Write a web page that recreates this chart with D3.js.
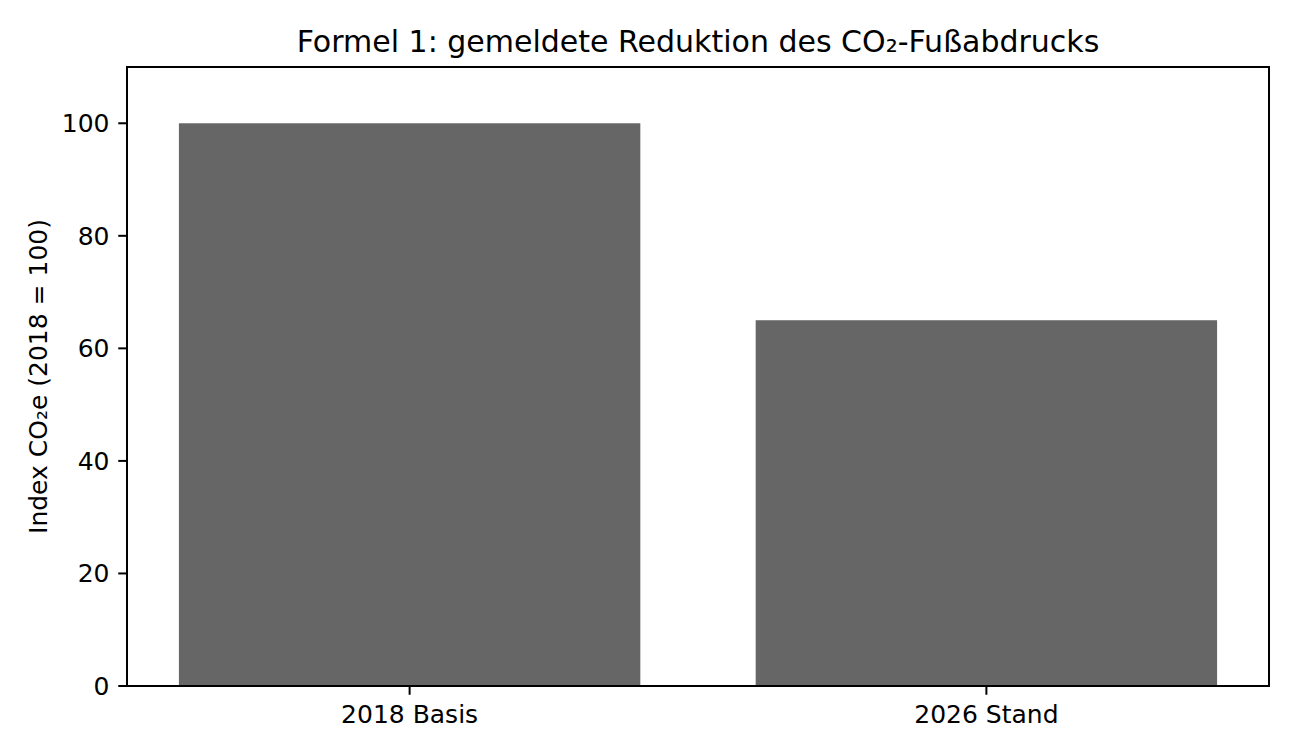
<!DOCTYPE html>
<html><head><meta charset="utf-8">
<script src="https://cdn.jsdelivr.net/npm/d3@7/dist/d3.min.js"></script>
<style>
html,body{margin:0;padding:0;background:#fff;}
svg{display:block;font-family:"DejaVu Sans",sans-serif;}
</style></head>
<body>
<script>
const categories = ["2018 Basis", "2026 Stand"];
const values = [100, 65];
const yTicks = [0, 20, 40, 60, 80, 100];
const title = "Formel 1: gemeldete Reduktion des CO₂-Fußabdrucks";
const yLabel = "Index CO₂e (2018 = 100)";

const W = 1296, H = 756;
const m = {left:127, right:1269, top:67, bottom:686};
const svg = d3.select("body").append("svg").attr("width", W).attr("height", H);

const x = d3.scaleLinear().domain([-0.49, categories.length - 1 + 0.49]).range([m.left, m.right]);
const y = d3.scaleLinear().domain([0, 110]).range([m.bottom, m.top]);
const barW = x(0.8) - x(0);

svg.selectAll("rect.bar").data(values).join("rect")
  .attr("class","bar")
  .attr("x", (d,i) => x(i) - barW/2)
  .attr("width", barW)
  .attr("y", d => y(d))
  .attr("height", d => y(0) - y(d))
  .attr("fill", "#666666");

// frame
svg.append("rect").attr("x", m.left).attr("y", m.top)
  .attr("width", m.right - m.left).attr("height", m.bottom - m.top)
  .attr("fill","none").attr("stroke","#000").attr("stroke-width",2);

const tickLen = 8.75;
// y axis ticks
const yg = svg.append("g");
yTicks.forEach(t => {
  yg.append("line").attr("x1", m.left).attr("x2", m.left - tickLen)
    .attr("y1", y(t)).attr("y2", y(t)).attr("stroke","#000").attr("stroke-width",2);
  yg.append("text").attr("x", m.left - tickLen - 8.75).attr("y", y(t) + 9)
    .attr("text-anchor","end").attr("font-size",25).attr("fill","#000").text(t);
});
// x ticks
const xg = svg.append("g");
categories.forEach((c,i) => {
  xg.append("line").attr("x1", x(i)).attr("x2", x(i))
    .attr("y1", m.bottom).attr("y2", m.bottom + tickLen).attr("stroke","#000").attr("stroke-width",2);
  xg.append("text").attr("x", x(i)).attr("y", 723)
    .attr("text-anchor","middle").attr("font-size",25).attr("fill","#000").text(c);
});

svg.append("text").attr("x", (m.left + m.right)/2).attr("y", 52)
  .attr("text-anchor","middle").attr("font-size",30).attr("fill","#000").text(title);

svg.append("text").attr("transform", `translate(47,${(m.top + m.bottom)/2}) rotate(-90)`)
  .attr("text-anchor","middle").attr("font-size",25).attr("fill","#000").text(yLabel);
</script>
</body></html>
